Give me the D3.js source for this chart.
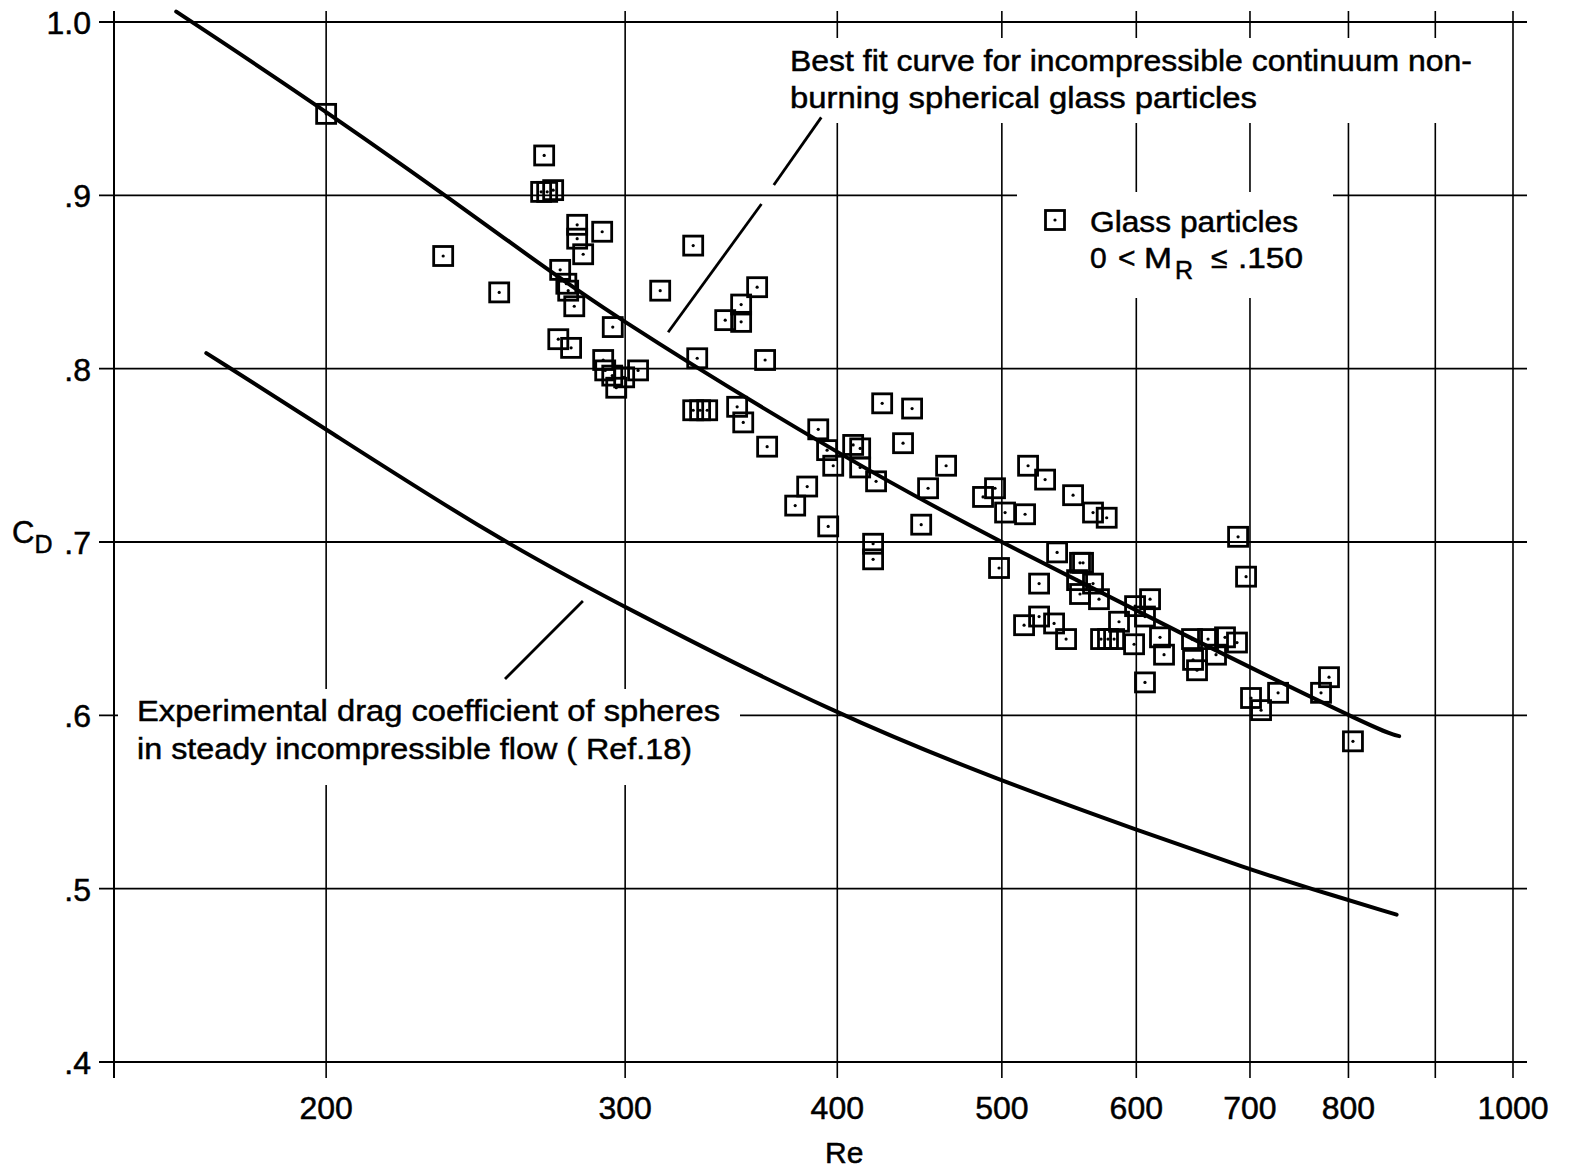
<!DOCTYPE html>
<html><head><meta charset="utf-8">
<script src="https://cdn.jsdelivr.net/npm/d3@7"></script>
<style>body{margin:0;background:#fff}svg{display:block}text{font-family:"Liberation Sans",Arial,sans-serif;fill:#000;stroke:#000;stroke-width:0.5px}</style>
</head><body>
<svg id="c" width="1571" height="1173"></svg>
<script>
// ---- data ----
const reTicks = [150, 200, 300, 400, 500, 600, 700, 800, 900, 1000];
const reLabels = ["", "200", "300", "400", "500", "600", "700", "800", "", "1000"];
const cdTicks = [0.4, 0.5, 0.6, 0.7, 0.8, 0.9, 1.0];
const cdLabels = [".4", ".5", ".6", ".7", ".8", ".9", "1.0"];

const particleRe = [200, 268.8, 267.7, 269.9, 272.1, 234.4, 252.9, 281.1, 281.1, 290.8,
  283.4, 274.7, 277.0, 277.7, 280.0, 274.0, 278.8, 295.0, 291.2, 292.0,
  294.8, 296.4, 299.6, 305.3, 314.6, 329.0, 330.8, 329.0, 332.1, 335.3,
  349.2, 352.1, 343.6, 351.1, 351.1, 358.8, 362.7, 363.7, 389.8, 394.5,
  397.8, 384.0, 377.8, 395.1, 408.7, 412.6, 412.6, 421.6, 425.1, 442.7,
  437.3, 463.6, 452.4, 448.2, 419.9, 419.9, 487.4, 495.4, 502.2, 498.1,
  518.1, 530.2, 550.7, 565.8, 576.4, 516.0, 538.9, 558.2, 555.9, 553.7,
  565.8, 555.9, 570.4, 525.9, 515.3, 525.9, 536.7, 545.5, 572.0, 577.4,
  582.2, 598.2, 586.1, 599.0, 611.3, 607.1, 619.6, 623.0, 607.1, 647.1,
  661.3, 676.7, 687.8, 648.0, 651.5, 668.5, 688.8, 696.3, 701.0, 710.6,
  727.2, 770.8, 779.2, 804.9];
const particleCd = [0.947, 0.923, 0.902, 0.902, 0.903, 0.865, 0.844, 0.883, 0.875, 0.879,
  0.866, 0.857, 0.849, 0.845, 0.836, 0.817, 0.812, 0.824, 0.805, 0.799,
  0.796, 0.789, 0.795, 0.799, 0.845, 0.871, 0.806, 0.776, 0.776, 0.776,
  0.778, 0.769, 0.828, 0.837, 0.827, 0.847, 0.805, 0.755, 0.765, 0.753,
  0.744, 0.732, 0.721, 0.709, 0.756, 0.754, 0.743, 0.735, 0.780, 0.777,
  0.757, 0.744, 0.731, 0.710, 0.699, 0.690, 0.726, 0.731, 0.717, 0.685,
  0.744, 0.736, 0.727, 0.717, 0.714, 0.716, 0.694, 0.688, 0.688, 0.678,
  0.676, 0.670, 0.667, 0.676, 0.652, 0.657, 0.653, 0.644, 0.644, 0.644,
  0.644, 0.641, 0.654, 0.663, 0.667, 0.657, 0.645, 0.635, 0.619, 0.644,
  0.644, 0.645, 0.642, 0.632, 0.626, 0.635, 0.703, 0.680, 0.610, 0.603,
  0.613, 0.613, 0.622, 0.585];

const bestFitRe = [163.2, 200, 250, 300, 400, 500, 636, 805, 857];
const bestFitCd = [1.006, 0.948, 0.881, 0.827, 0.752, 0.700, 0.648, 0.599, 0.588];

const expRe = [170, 200, 250, 300, 400, 500, 600, 700, 760, 854];
const expCd = [0.809, 0.765, 0.704, 0.662, 0.600, 0.562, 0.534, 0.511, 0.500, 0.485];

// annotation leader lines (Re, Cd)
const leaderRe = [[318, 360.9], [367, 391.4], [254.9, 283.3]];
const leaderCd = [[0.821, 0.895], [0.906, 0.945], [0.621, 0.666]];

// ---- drawing ----
const svg = d3.select("#c");
const x = d3.scaleLog().domain([150, 1000]).range([114, 1513]);
const y = d3.scaleLinear().domain([0.4, 1.0]).range([1062, 22]);

const xLeft = x(150) - 15, xRight = x(1000) + 14;
const yTop = y(1.0) - 11, yBot = y(0.4) + 16;

const grid = svg.append("g").attr("stroke", "#000");
grid.selectAll("line.h").data(cdTicks).join("line")
  .attr("x1", xLeft).attr("x2", xRight)
  .attr("y1", d => y(d)).attr("y2", d => y(d))
  .attr("stroke-width", d => (d === 0.4 || d === 1.0) ? 2.2 : 1.8);
grid.selectAll("line.v").data(reTicks).join("line")
  .attr("x1", d => x(d)).attr("x2", d => x(d))
  .attr("y1", yTop).attr("y2", yBot)
  .attr("stroke-width", d => d === 150 ? 2 : 1.6);

// white knockouts behind annotation texts
const knock = svg.append("g").attr("fill", "#fff");
knock.append("rect").attr("x", 780).attr("y", 38).attr("width", 705).attr("height", 85);
knock.append("rect").attr("x", 1017).attr("y", 192).attr("width", 316).attr("height", 106);
knock.append("rect").attr("x", 118).attr("y", 689).attr("width", 622).attr("height", 96);

// tick labels
svg.append("g").selectAll("text").data(cdTicks).join("text")
  .attr("x", 91).attr("y", d => y(d) + 12)
  .attr("text-anchor", "end").attr("font-size", 32)
  .text((d, i) => cdLabels[i]);
svg.append("g").selectAll("text").data(reTicks).join("text")
  .attr("x", d => x(d)).attr("y", 1119)
  .attr("text-anchor", "middle").attr("font-size", 32)
  .text((d, i) => reLabels[i]);

svg.append("text").attr("x", x(400) + 7).attr("y", 1163).attr("text-anchor", "middle")
  .attr("font-size", 30).text("Re");
const cdLab = svg.append("text").attr("x", 12).attr("y", 543).attr("font-size", 31);
cdLab.append("tspan").text("C");
cdLab.append("tspan").attr("font-size", 25).attr("dy", 10).text("D");

// curves
svg.append("path")
  .attr("d", d3.line().curve(d3.curveNatural)(bestFitRe.map((r, i) => [x(r), y(bestFitCd[i])])))
  .attr("fill", "none").attr("stroke", "#000").attr("stroke-width", 4).attr("stroke-linecap", "round");
svg.append("path")
  .attr("d", d3.line().curve(d3.curveBasis)(expRe.map((r, i) => [x(r), y(expCd[i])])))
  .attr("fill", "none").attr("stroke", "#000").attr("stroke-width", 4).attr("stroke-linecap", "round");

// leader lines
svg.append("g").selectAll("line").data(leaderRe).join("line")
  .attr("x1", d => x(d[0])).attr("x2", d => x(d[1]))
  .attr("y1", (d, i) => y(leaderCd[i][0])).attr("y2", (d, i) => y(leaderCd[i][1]))
  .attr("stroke", "#000").attr("stroke-width", 2.8);

// particles
const S = 19;
const pts = svg.append("g");
pts.selectAll("rect").data(particleRe).join("rect")
  .attr("x", d => x(d) - S / 2).attr("y", (d, i) => y(particleCd[i]) - S / 2)
  .attr("width", S).attr("height", S)
  .attr("fill", "none").attr("stroke", "#000").attr("stroke-width", 2.8);
pts.selectAll("circle").data(particleRe).join("circle")
  .attr("cx", d => x(d)).attr("cy", (d, i) => y(particleCd[i]))
  .attr("r", 1.6).attr("fill", "#000");

// annotation text
function txt(s, xx, yy, len, fs) {
  const t = svg.append("text").attr("x", xx).attr("y", yy).attr("font-size", fs || 30).text(s);
  if (len) t.attr("textLength", len).attr("lengthAdjust", "spacingAndGlyphs");
  return t;
}
txt("Best fit curve for incompressible continuum non-", 790, 71, 682);
txt("burning spherical glass particles", 790, 108, 467);
txt("Experimental drag coefficient of spheres", 137, 721, 583);
txt("in steady incompressible flow ( Ref.18)", 137, 759, 555);

// legend
svg.append("rect").attr("x", 1055 - S / 2).attr("y", 220 - S / 2).attr("width", S).attr("height", S)
  .attr("fill", "none").attr("stroke", "#000").attr("stroke-width", 2.8);
svg.append("circle").attr("cx", 1055).attr("cy", 220).attr("r", 1.6).attr("fill", "#000");
txt("Glass particles", 1090, 232, 208);
txt("0", 1090, 268);
txt("<", 1118, 268);
txt("M", 1144, 268, 28);
txt("R", 1175, 279, null, 25);
txt("\u2264", 1211, 268);
txt(".150", 1238, 268, 65);
</script>
</body></html>
